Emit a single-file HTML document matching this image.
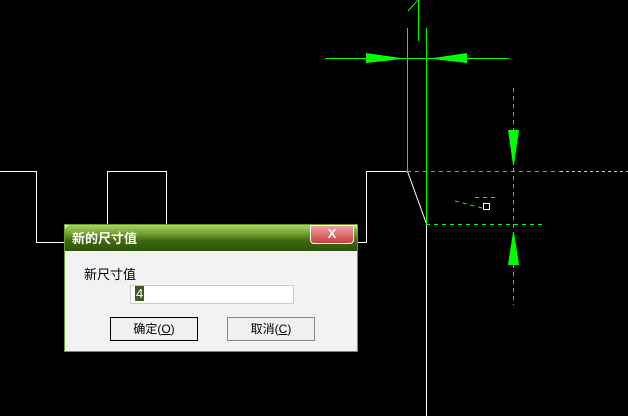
<!DOCTYPE html>
<html><head><meta charset="utf-8"><style>
body{margin:0;width:628px;height:416px;background:#000;overflow:hidden;position:relative;font-family:"Liberation Sans","Noto Sans CJK SC",sans-serif}
svg{position:absolute;left:0;top:0}
.dlg{position:absolute;left:64px;top:224px;width:294px;height:128px;background:#f2f2f2;border:1px solid #6a9a2a;box-sizing:border-box}
.tb{position:absolute;left:0;top:0;width:100%;height:26px;background:linear-gradient(#a9d46a,#6f9e2e 35%,#3f6a12 60%,#2e520a);color:#fff;font-weight:bold;font-size:13px;line-height:28px;padding-left:7px;box-sizing:border-box;border-radius:5px 5px 0 0}
.x{position:absolute;left:245px;top:0;width:42px;height:17px;background:linear-gradient(#f0a0a0,#c84040);border:1px solid #fff;border-radius:0 0 4px 4px;color:#fff;font-weight:bold;font-size:13px;text-align:center;line-height:16px}
.lbl{position:absolute;left:19px;top:39px;font-size:13px;color:#000}
.inp{position:absolute;left:65px;top:60px;width:164px;height:19px;background:#fff;border:1px solid #ccc;box-sizing:border-box;font-size:13px}
.inp span{background:#3c5a20;color:#fff;margin-left:4px;padding:0 1px}
.btn{position:absolute;top:92px;width:88px;height:24px;background:#f0f0f0;border:1px solid #888;box-sizing:border-box;font-size:12px;text-align:center;line-height:22px}
</style></head><body>
<svg width="628" height="416">
<g stroke="#fff" fill="none" stroke-width="1">
<polyline points="0,171.5 36.5,171.5 36.5,242.5 64,242.5"/>
<polyline points="107.5,224 107.5,171.5 166.5,171.5 166.5,224"/>
<polyline points="358,242.5 366.5,242.5 366.5,171.5 407.5,171.5 426.5,224 426.5,416"/>
</g>
<g stroke="#00ff00" stroke-width="1" fill="none">
<line x1="407.5" y1="28" x2="407.5" y2="171"/>
<line x1="426.5" y1="28" x2="426.5" y2="224"/>
<line x1="418.5" y1="0" x2="418.5" y2="41"/>
<line x1="408" y1="11" x2="418" y2="0"/>
<line x1="325" y1="58.5" x2="509" y2="58.5"/>
<g stroke-dasharray="4,4">
<line x1="407" y1="171.5" x2="560" y2="171.5"/>
<line x1="426" y1="224.5" x2="544" y2="224.5"/>
<line x1="513.5" y1="88" x2="513.5" y2="305"/>
<line x1="455" y1="201" x2="482" y2="208"/>
<line x1="475" y1="197.5" x2="497" y2="197.5"/>
</g>
</g>
<line x1="560" y1="171.5" x2="628" y2="171.5" stroke="#ccc" stroke-dasharray="3,3"/>
<rect x="483.5" y="203.5" width="6" height="6" stroke="#fff" fill="none"/>
<g fill="#00ff00">
<polygon points="366,53 366,63 401,59 401,58"/>
<polygon points="467,53 467,63 433,59 433,58"/>
<polygon points="508,130 519,130 514,165 513,165"/>
<polygon points="508,265 519,265 514,232 513,232"/>
</g>
</svg>
<div class="dlg">
<div class="tb">新的尺寸值</div>
<div class="x">X</div>
<div class="lbl">新尺寸值</div>
<div class="inp"><span>4</span></div>
<div class="btn" style="left:45px;border:1px solid #000">确定(<u>O</u>)</div>
<div class="btn" style="left:162px">取消(<u>C</u>)</div>
</div>
</body></html>
